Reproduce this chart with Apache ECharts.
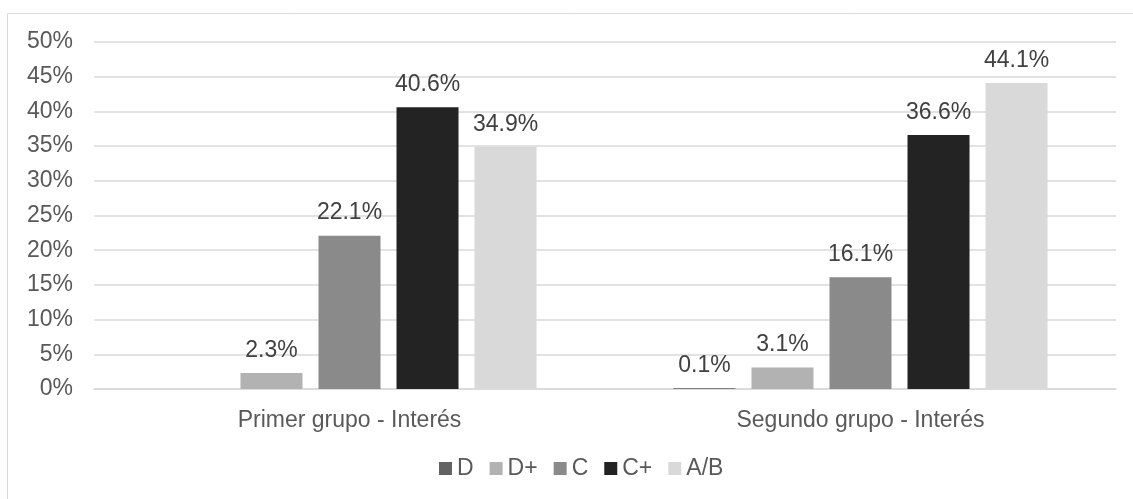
<!DOCTYPE html>
<html>
<head>
<meta charset="utf-8">
<script src="https://cdn.jsdelivr.net/npm/echarts@6/dist/echarts.min.js"></script>
<style>
  html, body { margin: 0; padding: 0; background: #ffffff; }
  #chart { width: 1133px; height: 499px; }
</style>
</head>
<body>
<div id="chart"></div>
<script>
const categories = ['Primer grupo - Interés', 'Segundo grupo - Interés'];
const seriesNames = ['D', 'D+', 'C', 'C+', 'A/B'];
const valuesD = [null, 0.1];
const valuesDplus = [2.3, 3.1];
const valuesC = [22.1, 16.1];
const valuesCplus = [40.6, 36.6];
const valuesAB = [34.9, 44.1];
const yTicks = { min: 0, max: 50, interval: 5 };

const colors = ['#636363', '#b2b2b2', '#8a8a8a', '#232323', '#d9d9d9'];
const allValues = [valuesD, valuesDplus, valuesC, valuesCplus, valuesAB];
const FONT = "'Liberation Sans', Arial, sans-serif";
const FS = 23;

const chart = echarts.init(document.getElementById('chart'));
chart.setOption({
  animation: false,
  backgroundColor: '#ffffff',
  textStyle: { fontFamily: FONT },
  graphic: [{
    type: 'rect',
    shape: { x: 7.5, y: 13.5, width: 1200, height: 600 },
    style: { fill: 'none', stroke: '#d9d9d9', lineWidth: 1 },
    silent: true
  }],
  grid: { left: 94, right: 17, top: 42, bottom: 110, containLabel: false },
  legend: {
    bottom: 14,
    left: 434,
    itemWidth: 13,
    itemHeight: 13,
    itemGap: 16,
    icon: 'rect',
    textStyle: { color: '#595959', fontSize: FS, fontFamily: FONT },
    data: seriesNames
  },
  xAxis: {
    type: 'category',
    data: categories,
    axisLine: { lineStyle: { color: '#d9d9d9', width: 1.5 } },
    axisTick: { show: false },
    axisLabel: { color: '#595959', fontSize: FS, fontFamily: FONT, margin: 20 }
  },
  yAxis: {
    type: 'value',
    min: yTicks.min,
    max: yTicks.max,
    interval: yTicks.interval,
    axisLine: { show: false },
    axisTick: { show: false },
    splitLine: { lineStyle: { color: '#d9d9d9', width: 1.5 } },
    axisLabel: { color: '#595959', fontSize: FS, fontFamily: FONT, margin: 21, formatter: '{value}%' }
  },
  series: seriesNames.map((name, i) => ({
    name: name,
    type: 'bar',
    data: allValues[i],
    barGap: '25.8%',
    barCategoryGap: '26.8%',
    itemStyle: { color: colors[i] },
    label: {
      show: true,
      position: 'top',
      distance: 11,
      color: '#404040',
      fontSize: FS,
      fontFamily: FONT,
      formatter: p => p.value == null ? '' : p.value.toFixed(1) + '%'
    }
  }))
});
</script>
</body>
</html>
